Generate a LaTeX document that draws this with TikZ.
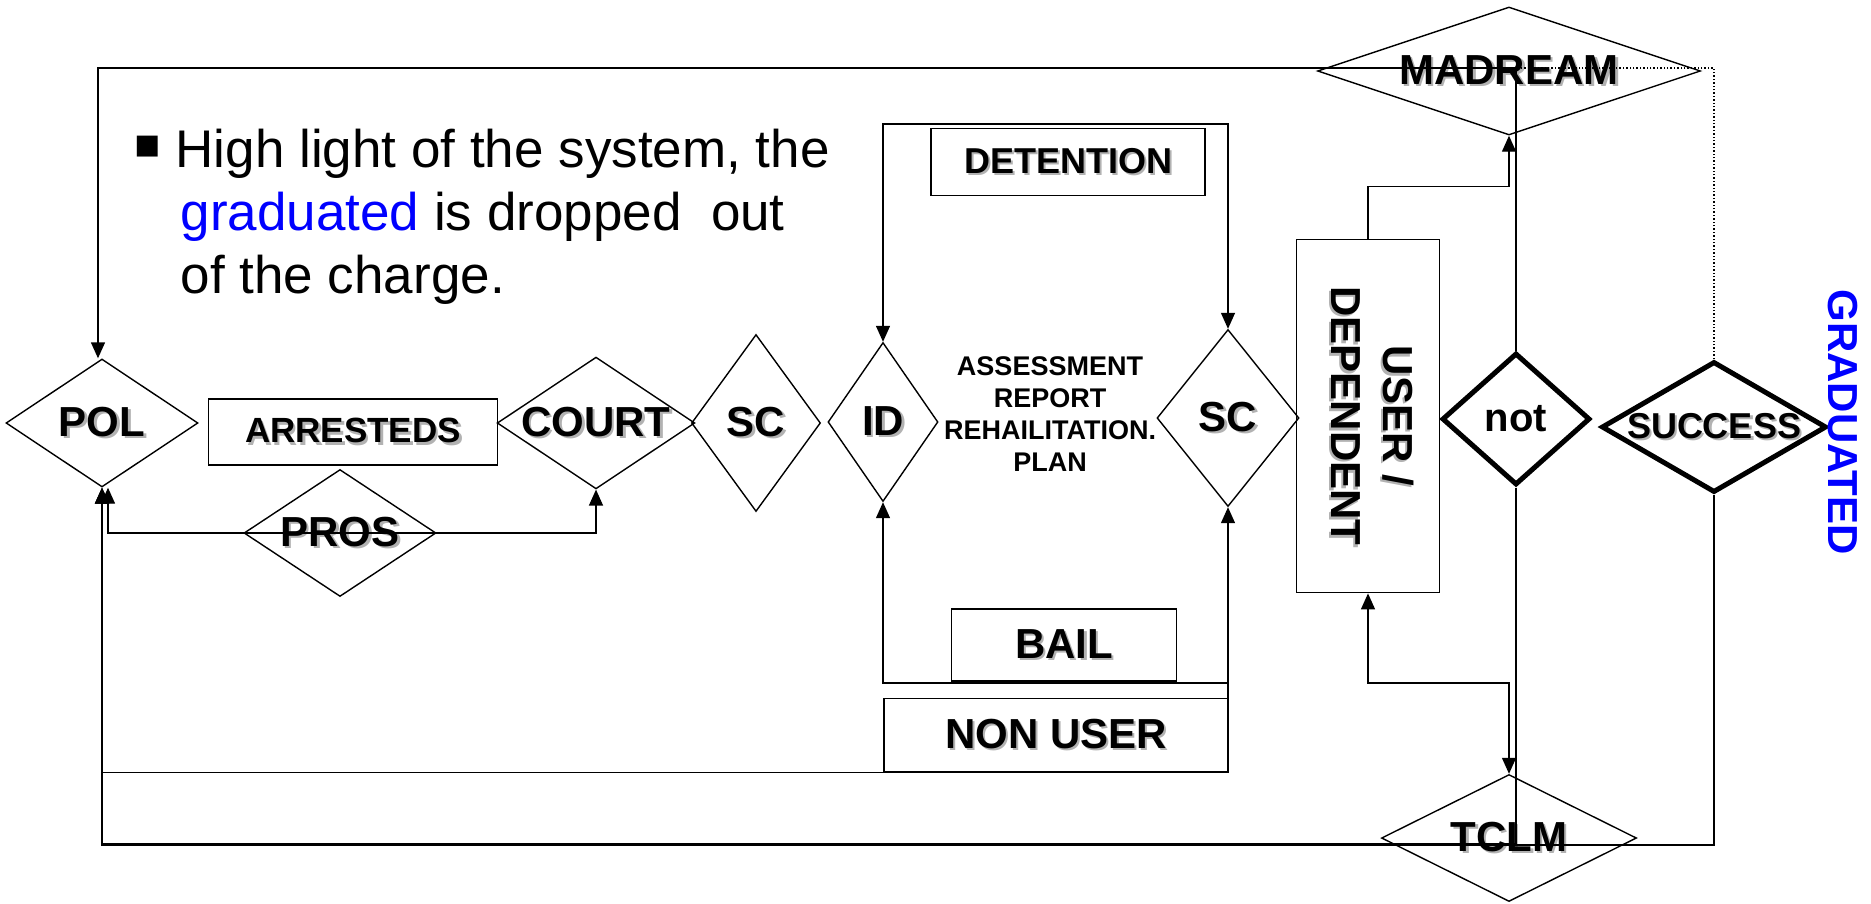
\documentclass[tikz,border=0pt]{standalone}
\usepackage{fontspec}
\setmainfont{Liberation Sans}
\newfontfamily\symbolfont{DejaVu Sans}
\usetikzlibrary{arrows.meta,shapes.geometric,positioning}

\newcommand{\shadowlbl}[1]{\makebox[0pt][l]{\hspace{2.5pt}\raisebox{-2.5pt}{\color{black!30}#1}}#1}

\begin{document}
\begin{tikzpicture}[x=1pt,y=-1pt,>={Triangle[length=16pt,width=14pt]},line width=1.4pt,
  decision/.style={diamond,draw,line width=1.4pt,inner sep=0pt,font=\bfseries\fontsize{42}{50}\selectfont},
  boldecision/.style={decision,line width=5pt},
  boxnode/.style={rectangle,draw,line width=1.8pt,inner sep=0pt,font=\bfseries\fontsize{42}{50}\selectfont}]
  \useasboundingbox (0,0) rectangle (1871,903);

  \node[anchor=center,inner sep=0pt,font=\symbolfont\fontsize{42}{42}\selectfont] (bullet) at (148,147) {▪};
  \node[anchor=base west,align=left,inner sep=0pt,font=\fontsize{53}{63}\selectfont] (highlight) at (175,293) {High light of the system, the\\\hspace*{5pt}\textcolor{blue}{graduated} is dropped\ \ out\\\hspace*{5pt}of the charge.};

  \node[decision,minimum width=192pt,minimum height=128pt,aspect=1.5] (pol) at (102,423) {\shadowlbl{POL}};
  \node[boxnode,minimum width=289pt,minimum height=66pt,font=\bfseries\fontsize{35}{40}\selectfont] (arrested) at (353,432) {\shadowlbl{ARRESTEDS}};
  \node[decision,minimum width=192pt,minimum height=128pt,aspect=1.5] (court) at (596,423) {\shadowlbl{COURT}};
  \node[decision,minimum width=129pt,minimum height=177pt,aspect=0.73] (sc) [right of=court,node distance=160pt] {\shadowlbl{SC}};
  \node[decision,minimum width=110pt,minimum height=159pt,aspect=0.7] (id) at (883,422) {\shadowlbl{ID}};
  \node[decision,minimum width=192pt,minimum height=127pt,aspect=1.5] (pros) at (340,533) {\shadowlbl{PROS}};

  \node[inner sep=0pt,align=center,font=\bfseries\fontsize{27}{32}\selectfont] (assess) at (1050,414) {ASSESSMENT\\REPORT\\REHAILITATION.\\PLAN};
  \node[decision,minimum width=142pt,minimum height=177pt,aspect=0.8] (scb) at (1228,418) {\shadowlbl{SC}};
  \node[boxnode,minimum width=274pt,minimum height=67pt,font=\bfseries\fontsize{36}{40}\selectfont] (detention) at (1068,162) {\shadowlbl{DETENTION}};
  \node[boxnode,minimum width=225pt,minimum height=72pt] (bail) at (1064,645) {\shadowlbl{BAIL}};
  \node[boxnode,minimum width=344pt,minimum height=73pt] (nonuser) at (1056,735) {\shadowlbl{NON USER}};

  \node[boxnode,minimum width=143pt,minimum height=353pt,font=\bfseries\fontsize{42}{52}\selectfont] (user) at (1368,416) {\rotatebox{-90}{\begin{tabular}{@{}c@{}}\shadowlbl{USER /}\\\shadowlbl{DEPENDENT}\end{tabular}}};
  \node[decision,minimum width=383pt,minimum height=128pt,aspect=3] (madream) at (1509,71) {\shadowlbl{MADREAM}};
  \node[boldecision,minimum width=148pt,minimum height=132pt,aspect=1.1,font=\bfseries\fontsize{40}{48}\selectfont] (notd) at (1516,419) {not};
  \node[boldecision,minimum width=225pt,minimum height=131pt,aspect=1.7,font=\bfseries\fontsize{36}{44}\selectfont] (success) at (1714,427) {\shadowlbl{SUCCESS}};
  \node[decision,minimum width=255pt,minimum height=127pt,aspect=2] (tclm) at (1509,838) {\shadowlbl{TCLM}};
  \node[inner sep=0pt,text=blue,font=\bfseries\fontsize{42}{50}\selectfont] (graduated) at (1843,422) {\rotatebox{-90}{GRADUATED}};

  \coordinate (dettop) at (1056,124);
  \coordinate (bailbot) at (1056,683);
  \coordinate (topleft) at (98,68);
  \coordinate (botleft) at (102,845);

  \draw[<->] (id.north) |- (dettop) -| (scb.north);
  \draw[<->] (id.south) |- (bailbot) -| (scb.south);
  \draw[->] (scb.south |- bailbot) |- (nonuser.south) -| (pol.south);
  \draw[<->] ([xshift=6pt]pol.south) |- (pros.center) -| (court.south);
  \draw[->] (user.north) -- ++(0,-52) -| (madream.south);
  \draw[<->] (tclm.north) -- ++(0,-91) -| (user.south);
  \draw[->] (notd.north) |- (topleft) -- (topleft |- pol.north);
  \draw[dotted] (success.north) |- (topleft);
  \draw[->] (notd.south) |- ([yshift=1.5pt]botleft) -- (pol.south);
  \draw[->,line width=2pt] (success.south) |- (botleft) -- (pol.south);
\end{tikzpicture}
\end{document}
